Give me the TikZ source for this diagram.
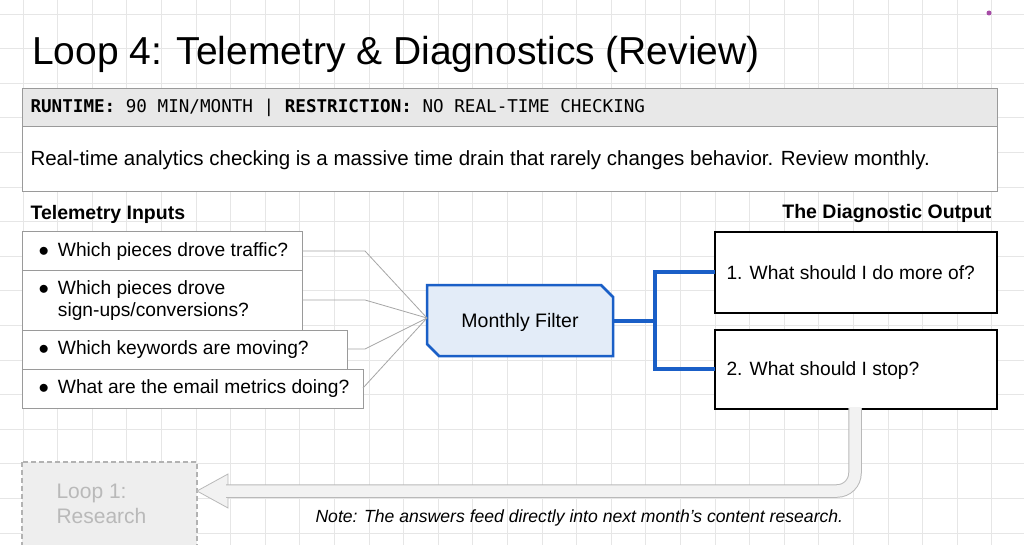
\documentclass[tikz,border=0pt]{standalone}
\usepackage{fontspec}
\setmainfont{Liberation Sans}
\setmonofont{DejaVu Sans Mono}
\usetikzlibrary{calc}
\definecolor{gridc}{HTML}{E6E6E6}
\definecolor{blu}{HTML}{1A5FC7}
\definecolor{bluf}{HTML}{E3ECF8}
\definecolor{hdr}{HTML}{E8E8E8}
\definecolor{inb}{HTML}{9A9A9A}
\newcommand{\fs}[1]{\fontsize{#1}{1.2\dimexpr#1pt\relax}\selectfont}
\begin{document}
\begin{tikzpicture}[x=1pt,y=-1pt,
  inbox/.style={draw=inb,line width=1pt,fill=white},
  intext/.style={anchor=west,font=\fs{19.2}},
  feed/.style={draw=gray!70,line width=0.8pt},
  outbox/.style={draw=black,line width=1.2pt,fill=white},
  br/.style={draw=blu,line width=4pt}]
\useasboundingbox (0,0) rectangle (1024,545);
\fill[white] (0,0) rectangle (1024,545);
\foreach \i in {0,...,29} {\draw[gridc,line width=0.8pt] (23+34.6*\i,0) -- (23+34.6*\i,545);}
\foreach \i in {0,...,16} {\draw[gridc,line width=0.8pt] (0,14+34.6*\i) -- (1024,14+34.6*\i);}
\fill[violet!70] (989,13) circle (2.5);
\node[anchor=base west,inner sep=0,font=\fs{39}] (title) at (32,65) {Loop 4: Telemetry \& Diagnostics (Review)};
\node[draw=inb,fill=hdr,line width=1pt,minimum width=975,minimum height=38,anchor=north west,inner sep=0] (hdr) at (22,88) {};
\node[anchor=west,font=\ttfamily\fs{17.6}] (hdrt) at (27,108) {\textbf{RUNTIME:} 90 MIN/MONTH | \textbf{RESTRICTION:} NO REAL-TIME CHECKING};
\node[draw=inb,fill=white,line width=1pt,minimum width=975,minimum height=65,anchor=north west,inner sep=0] (desc) at (22,126) {};
\node[anchor=west,font=\fs{20.5}] (desct) at (27,160) {Real-time analytics checking is a massive time drain that rarely changes behavior. Review monthly.};
\node[anchor=west,font=\bfseries\fs{19.5}] (ti) at (27,214) {Telemetry Inputs};
\node[anchor=east,font=\bfseries\fs{19.5}] (dout) at (995,214) {The Diagnostic Output};
% input boxes
\path[inbox] (22,232) rectangle (302,270); \coordinate (i1) at (302,251);
\path[inbox] (22,270) rectangle (302,330); \coordinate (i2) at (302,300);
\path[inbox] (22,330) rectangle (347,369); \coordinate (i3) at (347,349);
\path[inbox] (22,369) rectangle (363,408); \coordinate (i4) at (363,388);
\node[intext] (t1) at (35,252) {$\bullet$\hspace{9pt}Which pieces drove traffic?};
\node[intext,align=left] (t2) at (35,301) {$\bullet$\hspace{9pt}Which pieces drove\\[-1pt]\hphantom{$\bullet$}\hspace{9pt}sign-ups/conversions?};
\node[intext] (t3) at (35,350) {$\bullet$\hspace{9pt}Which keywords are moving?};
\node[intext] (t4) at (35,389) {$\bullet$\hspace{9pt}What are the email metrics doing?};
% filter
\coordinate (fl) at (427,318);
\draw[blu,fill=bluf,line width=2.5pt] (427,285) -- (601,285) -- (613,297) -- (613,356) -- (439,356) -- (427,344) -- cycle;
\node[font=\fs{19.5}] (filt) at (520,322) {Monthly Filter};
\draw[feed] (i1) -- (365,251) -- (fl);
\draw[feed] (i2) -- (365,300) -- (fl);
\draw[feed] (i3) -- (365,349) -- (fl);
\draw[feed] (i4) -- (fl);
% outputs
\path[outbox] (715,232) rectangle (997,313);
\path[outbox] (715,330) rectangle (997,409);
\node[anchor=west,font=\fs{19.2}] (o1) at (723,273) {1. What should I do more of?};
\node[anchor=west,font=\fs{19.2}] (o2) at (723,371) {2. What should I stop?};
\draw[br] (613,321) -- (655,321);
\draw[br] (715,272) -- (655,272) -- (655,369) -- (715,369);
% loop box
\draw[draw=gray!60,fill=gray!13,dash pattern=on 5pt off 3pt,line width=1.2pt] (22,462) rectangle (197,550);
\node[anchor=west,align=left,text=gray!55,font=\fs{21}] (l1) at (53,504) {Loop 1:\\Research};
% fat arrow
\draw[gray!55,line width=0.8pt,fill=gray!10] (228,474) -- (197,491) -- (228,508) -- cycle;
\draw[gray!55,line width=13.5pt,rounded corners=18] (855,408) -- (855,491) -- (226,491);
\draw[gray!10,line width=11.5pt,rounded corners=18] (855,407) -- (855,491) -- (224,491);
\node[anchor=west,font=\itshape\fs{17.6}] (note) at (312,518) {Note: The answers feed directly into next month’s content research.};
\end{tikzpicture}
\end{document}
